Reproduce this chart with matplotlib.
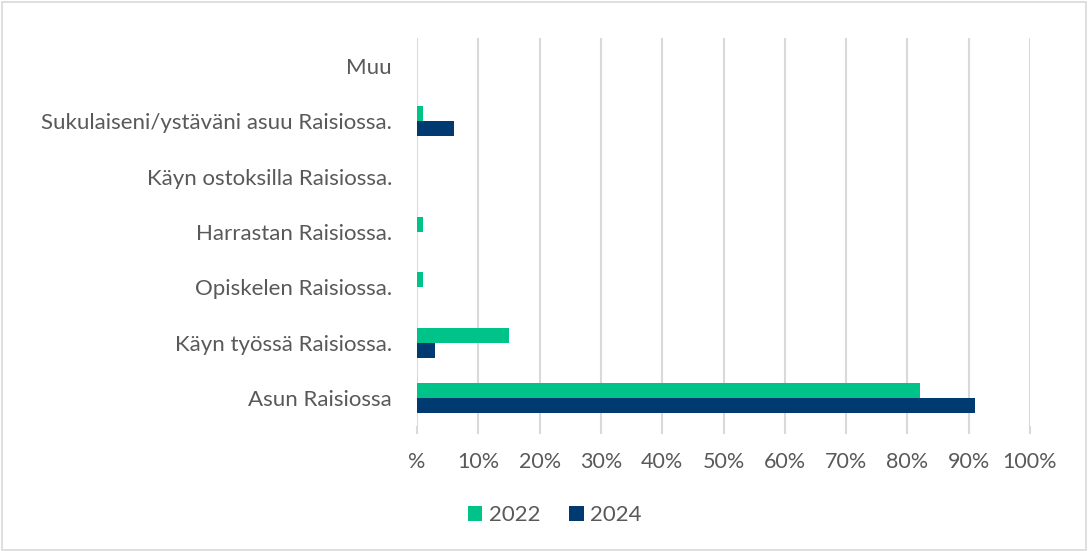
import matplotlib
matplotlib.use("Agg")
import matplotlib.pyplot as plt
import numpy as np
from matplotlib.patches import Rectangle

categories = ["Asun Raisiossa", "Käyn työssä Raisiossa.", "Opiskelen Raisiossa.",
              "Harrastan Raisiossa.", "Käyn ostoksilla Raisiossa.",
              "Sukulaiseni/ystäväni asuu Raisiossa.", "Muu"]
v2022 = [82, 15, 1, 1, 0, 1, 0]
v2024 = [91, 3, 0, 0, 0, 6, 0]
xticks = [0, 10, 20, 30, 40, 50, 60, 70, 80, 90, 100]
xticklabels = ["%"] + [f"{t}%" for t in xticks[1:]]

plt.rcParams['font.family'] = ['Lato', 'DejaVu Sans']
green = "#00C389"
navy = "#003A70"
gray = "#595959"

fig = plt.figure(figsize=(10.88, 5.51), dpi=100)
ax = fig.add_axes([417/1088, 1-426/551, (1030-417)/1088, (426-38)/551])

y = np.arange(len(categories))
h = 0.27
ax.barh(y + h/2, v2022, height=h, color=green, label="2022", zorder=3)
ax.barh(y - h/2, v2024, height=h, color=navy, label="2024", zorder=3)

ax.set_xlim(0, 100)
ax.set_ylim(-0.5, len(categories) - 0.5)
ax.set_xticks(xticks)
ax.set_xticklabels(xticklabels, fontsize=15.5, color=gray)
ax.set_yticks(y)
ax.set_yticklabels(categories, fontsize=16, color=gray)
ax.grid(axis="x", color="#D9D9D9", linewidth=1.5, zorder=0)
ax.tick_params(axis="y", length=0, pad=18)
ax.tick_params(axis="x", length=6, width=1.5, color="#D9D9D9", pad=13, direction="out")
for s in ax.spines.values():
    s.set_visible(False)

leg = fig.legend(loc="center", bbox_to_anchor=(0.51, 1-515/551), ncol=2, frameon=False,
                 fontsize=16, handlelength=0.65, handleheight=0.65, columnspacing=1.3,
                 handletextpad=0.3)
for t in leg.get_texts():
    t.set_color(gray)

fig.patches.append(Rectangle((0.002, 0.002), 0.996, 0.994, transform=fig.transFigure,
                             fill=False, edgecolor="#D9D9D9", linewidth=1.2))
fig.savefig("out.png", dpi=100)
